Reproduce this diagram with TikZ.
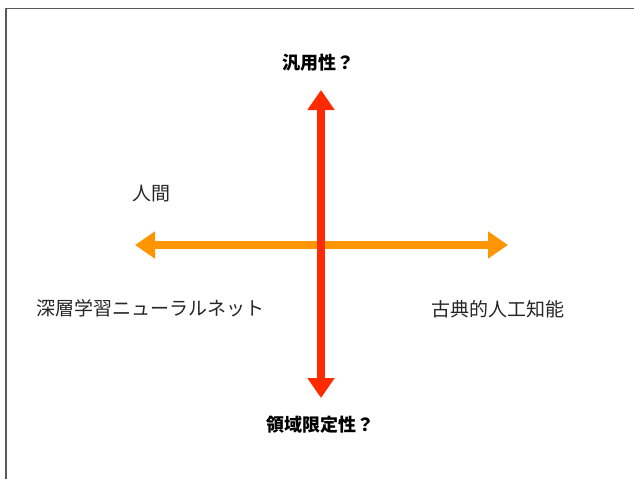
\documentclass[tikz,border=0pt]{standalone}
\usepackage{fontspec}
\setmainfont{Noto Sans CJK JP}
\usetikzlibrary{arrows.meta}
\definecolor{vred}{HTML}{FF2A00}
\definecolor{horange}{HTML}{FF9500}
\tikzset{
  lbl/.style={inner sep=0pt, font=\fontsize{19}{19}\selectfont, text=black!85},
  blbl/.style={inner sep=0pt, font=\fontsize{18}{18}\selectfont\bfseries},
  axis/.style={line width=8pt, {Triangle[width=26pt,length=20pt]}-{Triangle[width=26pt,length=20pt]}}
}
\begin{document}
\begin{tikzpicture}[x=1pt,y=-1pt]
\useasboundingbox (0,0) rectangle (634,479);
\draw[line width=1.2pt, black!65] (6,479) -- (6,8.3) -- (634,8.3);
\coordinate (west) at (135,245);
\coordinate (east) at (508,245);
\coordinate (north) at (321,90);
\coordinate (south) at (321,398);
\draw[axis, horange] (west) -- (east);
\draw[axis, vred] (north) -- (south);
\node[blbl] (gen) at (318,63) {汎用性？};
\node[blbl] (dom) at (320,425) {領域限定性？};
\node[lbl] (human) at (151,194) {人間};
\node[lbl] (deep) at (150,308.5) {深層学習ニューラルネット};
\node[lbl] (classic) at (498,309) {古典的人工知能};
\end{tikzpicture}
\end{document}
